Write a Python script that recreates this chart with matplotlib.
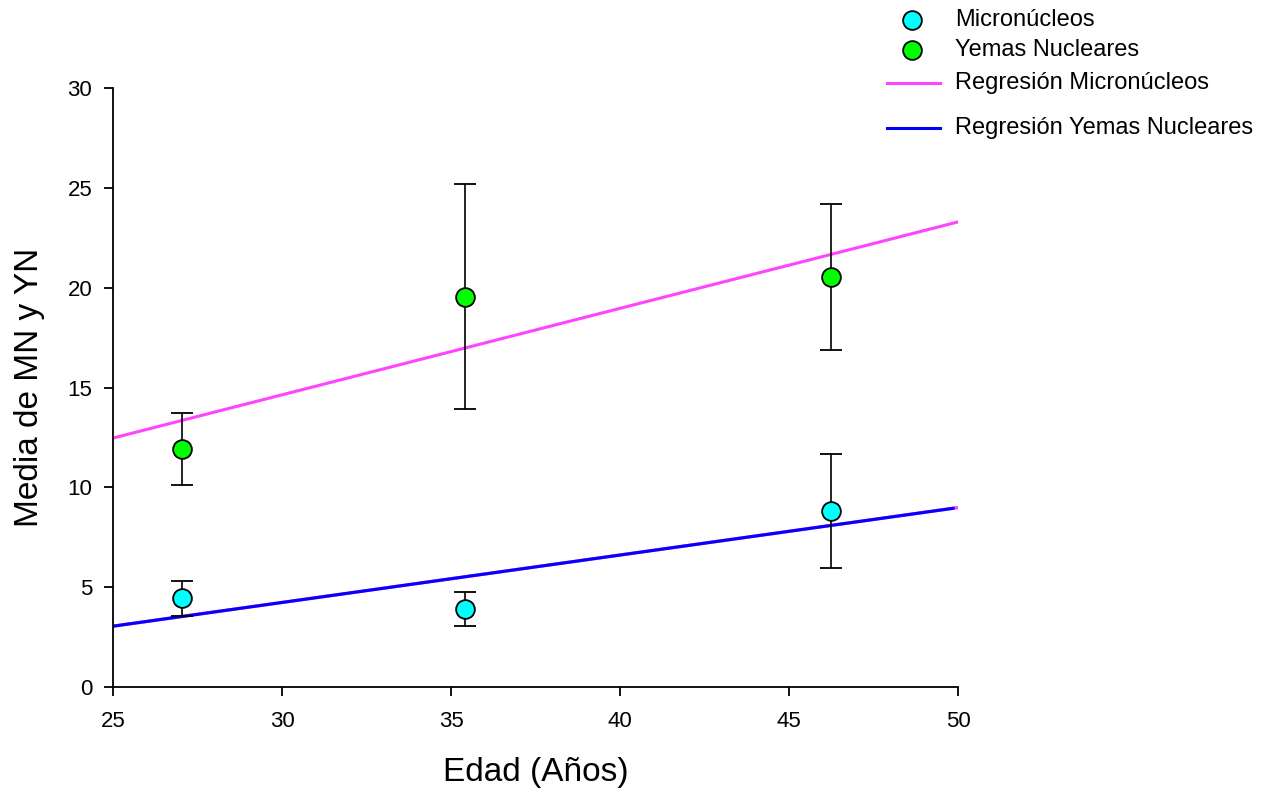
import numpy as np
import matplotlib
matplotlib.use('Agg')
import matplotlib.pyplot as plt
from matplotlib.lines import Line2D

plt.rcParams['font.family'] = ['Liberation Sans', 'DejaVu Sans']

# Edad media de cada grupo
edad = [27.05, 35.4, 46.25]

# Micronúcleos (MN)
mn_media = [4.45, 3.9, 8.8]
mn_err = [0.88, 0.84, 2.85]

# Yemas nucleares (YN)
yn_media = [11.9, 19.55, 20.55]
yn_err = [1.8, 5.65, 3.65]

x_ticks = [25, 30, 35, 40, 45, 50]
y_ticks = [0, 5, 10, 15, 20, 25, 30]

fig = plt.figure(figsize=(12.7, 7.95), dpi=100)
ax = fig.add_axes([0.089, 0.1358, 0.6654, 0.7535])

# rectas de regresion por minimos cuadrados
xr = np.array([25, 50])
b_yn = np.polyfit(edad, yn_media, 1)
b_mn = np.polyfit(edad, mn_media, 1)
ax.plot(xr, np.polyval(b_yn, xr), color='#ff44ff', lw=2.2, zorder=2)
ax.plot(xr, np.polyval(b_mn, xr), color='#ff44ff', lw=2.4, zorder=2)
ax.plot([25, 49.85], np.polyval(b_mn, [25, 49.85]), color='#0000ff', lw=2.2, zorder=2)

ax.errorbar(edad, mn_media, yerr=mn_err, fmt='o', color='black', ecolor='black',
            elinewidth=1.2, capsize=8, capthick=1.2, markersize=13.5,
            markerfacecolor='#00ffff', markeredgecolor='black', markeredgewidth=1.3, zorder=3)
ax.errorbar(edad, yn_media, yerr=yn_err, fmt='o', color='black', ecolor='black',
            elinewidth=1.2, capsize=8, capthick=1.2, markersize=13.5,
            markerfacecolor='#00ff00', markeredgecolor='black', markeredgewidth=1.3, zorder=3)

ax.set_xlim(25, 50)
ax.set_ylim(0, 30)
ax.set_xticks(x_ticks)
ax.set_yticks(y_ticks)
ax.spines['top'].set_visible(False)
ax.spines['right'].set_visible(False)
for s in ('left', 'bottom'):
    ax.spines[s].set_linewidth(1.3)
ax.tick_params(direction='out', length=6.5, width=1.3, labelsize=16)
ax.tick_params(axis='x', pad=11)
ax.tick_params(axis='y', pad=8.5)
ax.set_xlabel('Edad (Años)', fontsize=24, labelpad=18)
ax.set_ylabel('Media de MN y YN', fontsize=24, labelpad=16)

# leyenda
x0, x1, xm, xt = 887 / 1270, 940 / 1270, 912 / 1270, 955 / 1270
filas = [(20, 'Micronúcleos', 'o', '#00ffff'),
         (50, 'Yemas Nucleares', 'o', '#00ff00'),
         (83, 'Regresión Micronúcleos', '-', '#ff44ff'),
         (128, 'Regresión Yemas Nucleares', '-', '#0000ff')]
for ypx, txt, tipo, col in filas:
    yf = 1 - ypx / 795
    if tipo == 'o':
        fig.add_artist(Line2D([xm], [yf], marker='o', markersize=13.5, linestyle='none',
                              markerfacecolor=col, markeredgecolor='black',
                              markeredgewidth=1.3, transform=fig.transFigure))
    else:
        fig.add_artist(Line2D([x0, x1], [yf, yf], color=col, lw=2.2,
                              transform=fig.transFigure))
    fig.text(xt, yf, txt, fontsize=17, va='center', ha='left')

fig.savefig('out.png', dpi=100)
